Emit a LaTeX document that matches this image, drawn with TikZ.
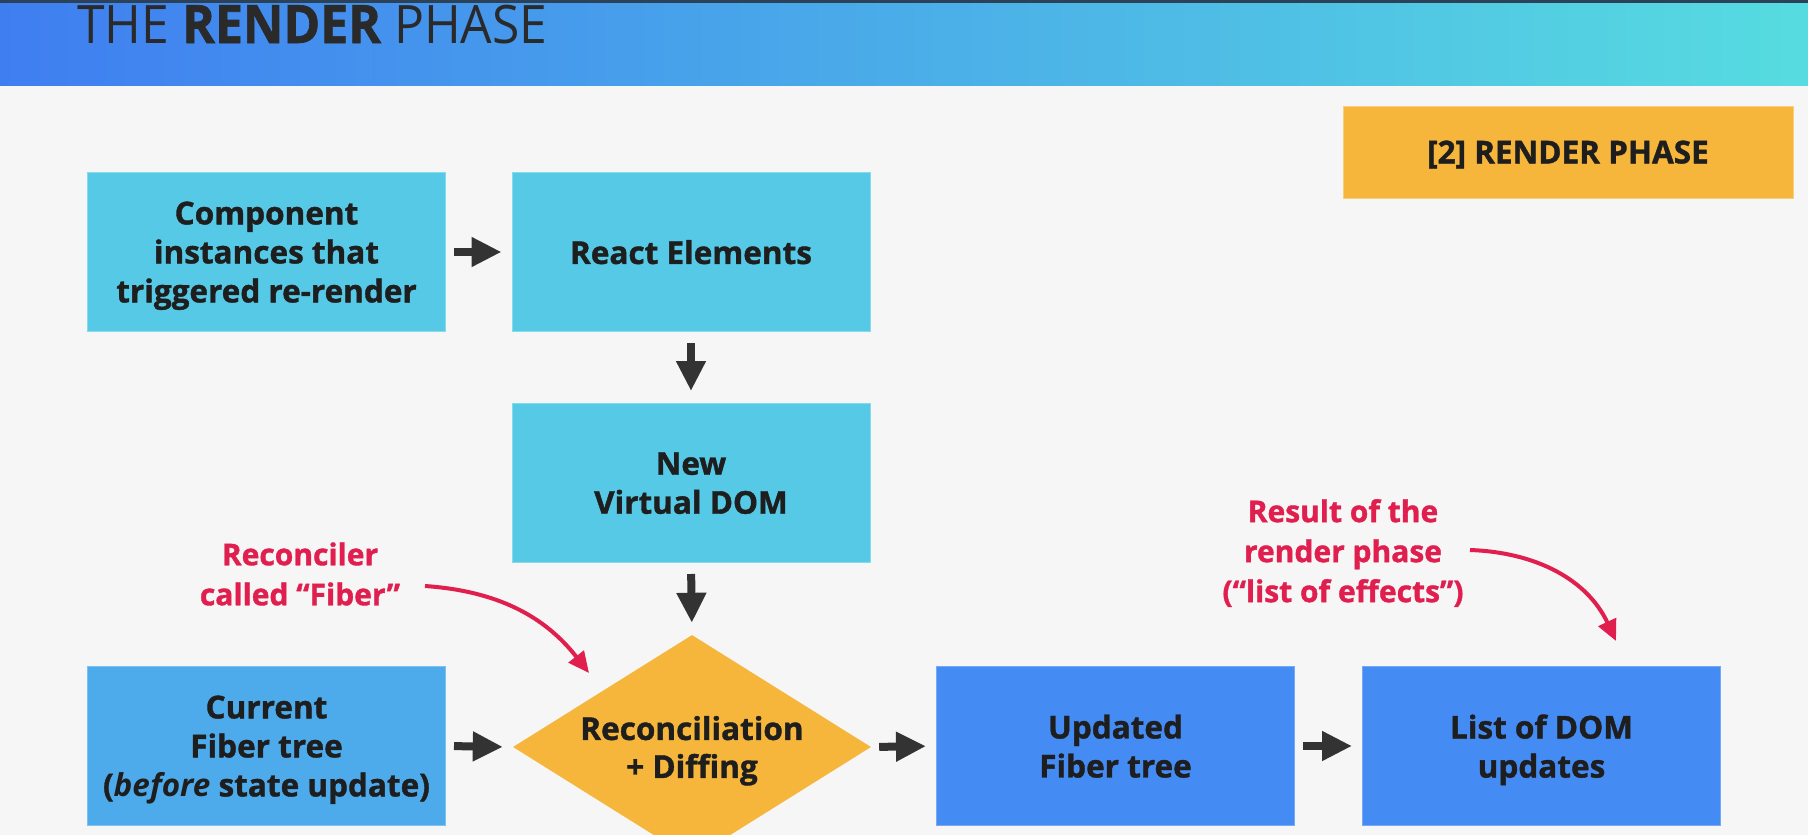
\documentclass[tikz,border=0pt]{standalone}
\usepackage{fontspec}
\setmainfont{Open Sans}[BoldFeatures={FakeBold=1.2}]
\usetikzlibrary{arrows.meta,shapes.geometric}
\definecolor{bg}{HTML}{F6F6F6}
\definecolor{hdrL}{HTML}{3F7EF1}
\definecolor{hdrR}{HTML}{56DCE0}
\definecolor{hdrTop}{HTML}{2C4258}
\definecolor{cyanbox}{HTML}{55C9E5}
\definecolor{cyanboxedge}{HTML}{86DAEC}
\definecolor{midblue}{HTML}{4DABEC}
\definecolor{midblueedge}{HTML}{7CC2F0}
\definecolor{deepblue}{HTML}{458BF4}
\definecolor{deepblueedge}{HTML}{76A9F5}
\definecolor{amber}{HTML}{F6B53B}
\definecolor{amberedge}{HTML}{F9CF7E}
\definecolor{ink}{HTML}{1E1E1E}
\definecolor{titleink}{HTML}{2A2A2A}
\definecolor{arrowgray}{HTML}{333333}
\definecolor{rose}{HTML}{E01F4F}
\tikzset{
  box/.style={rectangle, draw=#1edge, fill=#1, line width=1pt,
    minimum width=358pt, minimum height=159pt, inner sep=0pt, text depth=0pt,
    align=center, text=ink, font=\fontsize{31.5}{39}\selectfont\bfseries},
  flow/.style={draw=arrowgray, line width=8pt,
    -{Triangle[length=30pt,width=28pt]}, shorten <=8pt, shorten >=10pt},
  vflow/.style={flow, shorten <=11pt, shorten >=12pt},
  note/.style={align=center, text=rose, font=\fontsize{30}{40}\selectfont\bfseries},
  pointer/.style={draw=rose, line width=4pt, -{Triangle[length=21pt,width=19pt]}}
}
\begin{document}
\begin{tikzpicture}[x=1pt,y=-1pt]
\clip (0,0) rectangle (1808,835);
\fill[bg] (0,0) rectangle (1808,835);
% header
\shade[left color=hdrL, right color=hdrR] (0,3) rectangle (1808,85);
\fill[hdrTop] (0,0) rectangle (1808,3);
\node[anchor=base west, inner sep=0pt, text=titleink, font=\fontsize{53}{60}\selectfont]
  (title) at (77,43) {\scalebox{0.94}[1]{THE \textbf{RENDER} PHASE}};
% phase label
\node[box=amber, minimum width=450pt, minimum height=92pt] (phase) at (1568,152) {[2] RENDER PHASE};
% boxes
\node[box=cyanbox] (comp) at (266.5,252) {Component\\instances that\\triggered re-render};
\node[box=cyanbox] (react) at (691,252) {React Elements};
\node[box=cyanbox] (vdom) at (691,483) {New\\Virtual DOM};
\node[box=midblue] (cur) at (266.5,746) {Current\\Fiber tree\\(\textit{before} state update)};
\node[diamond, aspect=1.6, fill=amber, minimum width=358pt, minimum height=224pt, inner sep=0pt,
  text depth=0pt, align=center, text=ink, font=\fontsize{31.5}{38}\selectfont\bfseries] (rec) at (692,747)
  {Reconciliation\\+ Diffing};
\node[box=deepblue] (upd) at (1115.5,746) {Updated\\Fiber tree};
\node[box=deepblue] (list) at (1541.5,746) {List of DOM\\updates};
% flow arrows
\draw[flow] (comp.east) -- (react.west);
\draw[vflow] (react.south) -- (vdom.north);
\draw[vflow] (vdom.south) -- (rec.north);
\draw[flow] (cur.east) -- (rec.west);
\draw[flow] (rec.east) -- (upd.west);
\draw[flow] (upd.east) -- (list.west);
% annotations
\node[note] (n1) at (300,574) {Reconciler\\called “Fiber”};
\node[note] (n2) at (1343,553) {Result of the\\render phase\\(“list of effects”)};
\coordinate (p1s) at (425,586);
\coordinate (p1e) at (589,673);
\coordinate (p2s) at (1470,550);
\coordinate (p2e) at (1616,641);
\draw[pointer] (p1s) to[out=-4, in=128] (p1e);
\draw[pointer] (p2s) to[out=-2, in=115] (p2e);
\end{tikzpicture}
\end{document}
